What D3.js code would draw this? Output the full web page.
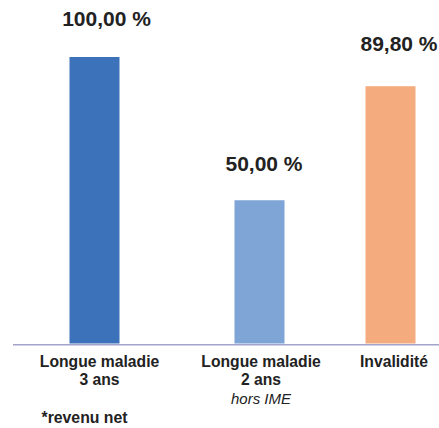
<!DOCTYPE html>
<html>
<head>
<meta charset="utf-8">
<script src="https://cdn.jsdelivr.net/npm/d3@7"></script>
<style>
  html, body { margin: 0; padding: 0; background: #fff; }
  svg { display: block; font-family: "Liberation Sans", Arial, sans-serif; }
</style>
</head>
<body>
<svg id="chart" width="439" height="428"></svg>
<script>
// Replacement rate by situation (share of net income kept)
const categories = ["Longue maladie 3 ans", "Longue maladie 2 ans", "Invalidité"];
const values = [100.0, 50.0, 89.8];
const labelLines = [
  ["Longue maladie", "3 ans"],
  ["Longue maladie", "2 ans"],
  ["Invalidité"]
];
const subLabels = ["", "hors IME", ""];
const colors = ["#3b72b9", "#7fa4d6", "#f4ab7d"];
const footnote = "*revenu net";

const fmt = v => v.toFixed(2).replace(".", ",") + " %";

const svg = d3.select("#chart");

const y = d3.scaleLinear().domain([0, 100]).range([343.5, 57]);
const x = d3.scaleOrdinal().domain(categories).range([94.5, 259.5, 390.5]);
const labelX = d3.scaleOrdinal().domain(categories).range([106.5, 264, 399]);
const catX = d3.scaleOrdinal().domain(categories).range([99.5, 261, 394]);
const labelGap = d3.scaleOrdinal().domain(categories).range([31.5, 29.5, 35]);
const barW = 50;
const lineH = 18;

// bars
svg.selectAll("rect.bar")
  .data(categories)
  .join("rect")
  .attr("class", "bar")
  .attr("x", d => x(d) - barW / 2)
  .attr("width", barW)
  .attr("y", (d, i) => y(values[i]))
  .attr("height", (d, i) => y(0) - y(values[i]))
  .attr("fill", (d, i) => colors[i]);

// baseline
svg.append("line")
  .attr("x1", 13).attr("x2", 439)
  .attr("y1", y(0) + 1.2).attr("y2", y(0) + 1.2)
  .attr("stroke", "#a3a3cb")
  .attr("stroke-width", 1.6);

// value labels
svg.selectAll("text.value")
  .data(categories)
  .join("text")
  .attr("class", "value")
  .attr("x", d => labelX(d))
  .attr("y", (d, i) => y(values[i]) - labelGap(d))
  .attr("text-anchor", "middle")
  .attr("font-size", 21)
  .attr("font-weight", "bold")
  .attr("fill", "#222")
  .text((d, i) => fmt(values[i]));

// category labels
const cat = svg.selectAll("g.cat")
  .data(categories)
  .join("g")
  .attr("class", "cat")
  .attr("transform", d => `translate(${catX(d)},0)`);

cat.each(function(d, i) {
  const g = d3.select(this);
  labelLines[i].forEach((line, k) => {
    g.append("text")
      .attr("y", 367 + k * lineH)
      .attr("text-anchor", "middle")
      .attr("font-size", 15.7)
      .attr("font-weight", "bold")
      .attr("fill", "#222")
      .text(line);
  });
  if (subLabels[i]) {
    g.append("text")
      .attr("y", 367 + labelLines[i].length * lineH + 0.5)
      .attr("text-anchor", "middle")
      .attr("font-size", 15)
      .attr("font-style", "italic")
      .attr("fill", "#222")
      .text(subLabels[i]);
  }
});

// footnote
svg.append("text")
  .attr("x", 41.5)
  .attr("y", 423)
  .attr("font-size", 15.8)
  .attr("font-weight", "bold")
  .attr("fill", "#222")
  .text(footnote);
</script>
</body>
</html>
